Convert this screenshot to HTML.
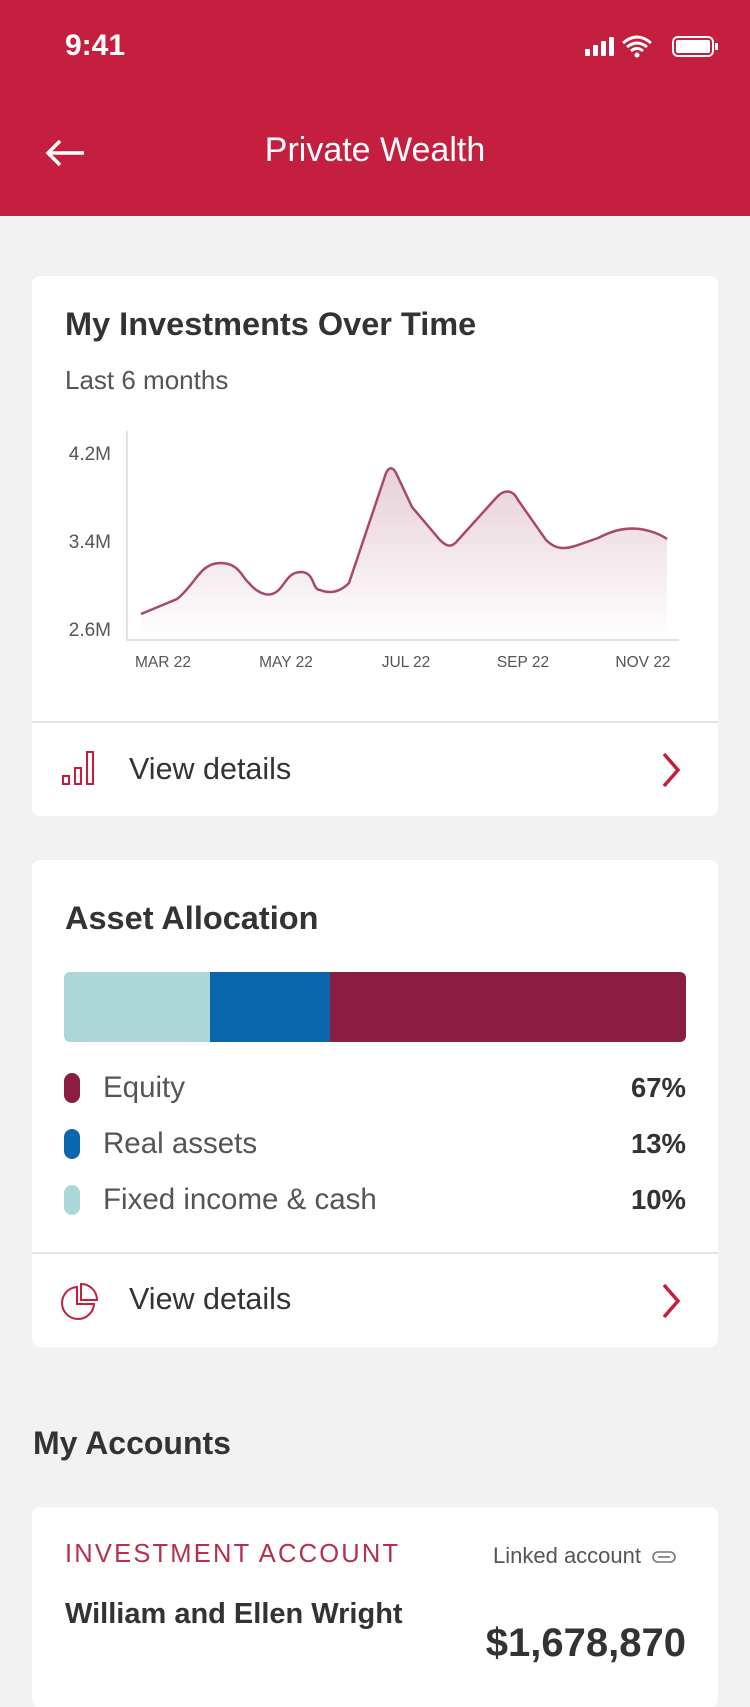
<!DOCTYPE html>
<html><head><meta charset="utf-8"><style>
*{margin:0;padding:0;box-sizing:border-box}
body{width:750px;height:1624px;overflow:hidden;background:#f2f2f2;font-family:"Liberation Sans",sans-serif;position:relative;color:#333}
.abs{position:absolute}
.card{position:absolute;left:32px;width:686px;background:#fff;border-radius:8px}
</style></head><body>
<div class="abs" style="left:0;top:0;width:750px;height:216px;background:#c41f3e"></div>
<div class="abs" style="left:65px;top:29px;color:#fff;font-size:30px;font-weight:bold">9:41</div>
<svg class="abs" style="left:585px;top:34px" width="135" height="26">
<rect x="0" y="15" width="5" height="7" rx="1" fill="#fff"/><rect x="8" y="11" width="5" height="11" rx="1" fill="#fff"/><rect x="16" y="7" width="5" height="15" rx="1" fill="#fff"/><rect x="24" y="3" width="5" height="19" rx="1" fill="#fff"/>
<path d="M38 9 Q52 -3 66 9 M42 13 Q52 5 62 13 M46 17 Q52 12 58 17" stroke="#fff" stroke-width="3" fill="none"/><circle cx="52" cy="21" r="2.5" fill="#fff"/>
<rect x="88" y="3" width="40" height="19" rx="5" fill="none" stroke="#fff" stroke-width="2"/><rect x="91" y="6" width="34" height="13" rx="2" fill="#fff"/><rect x="130" y="9" width="3" height="7" fill="#fff"/>
</svg>
<svg class="abs" style="left:44px;top:138px" width="42" height="30"><path d="M40 15H4M16 3L4 15L16 27" stroke="#fff" stroke-width="3.5" fill="none"/></svg>
<div class="abs" style="left:0;width:750px;top:131px;text-align:center;color:#fff;font-size:34px">Private Wealth</div>

<div class="card" style="top:276px;height:540px">
<div class="abs" style="left:33px;top:30px;font-size:32.5px;font-weight:bold;color:#333">My Investments Over Time</div>
<div class="abs" style="left:33px;top:89px;font-size:26px;color:#555">Last 6 months</div>
<div class="abs" style="left:0;top:445px;width:686px;height:2px;background:#e2e2e2"></div>
<svg class="abs" style="left:30px;top:473px" width="40" height="40"><g fill="none" stroke="#c41f3e" stroke-width="2"><rect x="1" y="27" width="6" height="8"/><rect x="13" y="19" width="6" height="16"/><rect x="25" y="3" width="6" height="32"/></g></svg>
<div class="abs" style="left:97px;top:476px;font-size:30.5px;color:#333">View details</div>
<svg class="abs" style="left:628px;top:476px" width="24" height="36"><path d="M4 2L18 18L4 34" stroke="#c41f3e" stroke-width="3.5" fill="none"/></svg>
</div>
<svg class="abs" style="left:0;top:0" width="750" height="700">
<defs><linearGradient id="g" x1="0" y1="0" x2="0" y2="1"><stop offset="0" stop-color="#e6d0d8"/><stop offset="1" stop-color="#fff"/></linearGradient></defs>
<path d="M141 614 L177 599 C195 585 200 563 220 563 C240 563 242 578 249 583 C256 592 266 596 272 594 C285 590 285 572 301 572 C315 572 312 590 320 590 C330 594 340 592 349 583 L386 473 C390 465 394 468 397 475 L412 507 L440 540 C447 547 452 548 458 540 L496 498 C503 490 512 488 518 500 L546 540 C556 550 565 549 575 546 L598 538 C610 532 622 527 640 529 C652 531 660 534 667 539 L667 640 L141 640 Z" fill="url(#g)"/>
<path d="M141 614 L177 599 C195 585 200 563 220 563 C240 563 242 578 249 583 C256 592 266 596 272 594 C285 590 285 572 301 572 C315 572 312 590 320 590 C330 594 340 592 349 583 L386 473 C390 465 394 468 397 475 L412 507 L440 540 C447 547 452 548 458 540 L496 498 C503 490 512 488 518 500 L546 540 C556 550 565 549 575 546 L598 538 C610 532 622 527 640 529 C652 531 660 534 667 539" fill="none" stroke="#a84a67" stroke-width="2.5"/>
<path d="M127 431V640H679" stroke="#e2e2e2" stroke-width="2" fill="none"/>
<g font-family="Liberation Sans" font-size="19" fill="#555" text-anchor="end"><text x="111" y="460">4.2M</text><text x="111" y="548">3.4M</text><text x="111" y="636">2.6M</text></g>
<g font-family="Liberation Sans" font-size="15.5" fill="#555" text-anchor="middle"><text x="163" y="667">MAR 22</text><text x="286" y="667">MAY 22</text><text x="406" y="667">JUL 22</text><text x="523" y="667">SEP 22</text><text x="643" y="667">NOV 22</text></g>
</svg>

<div class="card" style="top:860px;height:487px">
<div class="abs" style="left:33px;top:40px;font-size:32.5px;font-weight:bold">Asset Allocation</div>
<div class="abs" style="left:32px;top:112px;width:622px;height:70px;border-radius:6px;overflow:hidden;display:flex">
<div style="width:146px;background:#acd7d8"></div><div style="width:120px;background:#0a66aa"></div><div style="flex:1;background:#8b1d42"></div></div>
<div class="abs" style="left:32px;top:213px;width:16px;height:30px;border-radius:8px;background:#8b1d42"></div>
<div class="abs" style="left:32px;top:269px;width:16px;height:30px;border-radius:8px;background:#0a66aa"></div>
<div class="abs" style="left:32px;top:325px;width:16px;height:30px;border-radius:8px;background:#acd7d8"></div>
<div class="abs" style="left:71px;top:212px;font-size:29.5px;color:#555;line-height:32px">Equity</div>
<div class="abs" style="left:71px;top:268px;font-size:29.5px;color:#555;line-height:32px">Real assets</div>
<div class="abs" style="left:71px;top:324px;font-size:29.5px;color:#555;line-height:32px">Fixed income &amp; cash</div>
<div class="abs" style="right:32px;top:212px;font-size:27.5px;font-weight:bold;line-height:32px">67%</div>
<div class="abs" style="right:32px;top:268px;font-size:27.5px;font-weight:bold;line-height:32px">13%</div>
<div class="abs" style="right:32px;top:324px;font-size:27.5px;font-weight:bold;line-height:32px">10%</div>
<div class="abs" style="left:0;top:392px;width:686px;height:2px;background:#e2e2e2"></div>
<svg class="abs" style="left:28px;top:422px" width="40" height="40"><g fill="none" stroke="#c41f3e" stroke-width="2"><path d="M17 5A16 16 0 1 0 34 22H17Z"/><path d="M21 2V18H37A16 16 0 0 0 21 2Z"/></g></svg>
<div class="abs" style="left:97px;top:422px;font-size:30.5px">View details</div>
<svg class="abs" style="left:628px;top:423px" width="24" height="36"><path d="M4 2L18 18L4 34" stroke="#c41f3e" stroke-width="3.5" fill="none"/></svg>
</div>

<div class="abs" style="left:33px;top:1425px;font-size:32px;font-weight:bold">My Accounts</div>
<div class="card" style="top:1507px;height:200px">
<div class="abs" style="left:33px;top:33px;font-size:25.5px;color:#b5304f;letter-spacing:2.2px">INVESTMENT ACCOUNT</div>
<div class="abs" style="left:461px;top:36px;font-size:22px;color:#555">Linked account</div>
<svg class="abs" style="left:620px;top:42px" width="26" height="16"><g fill="none" stroke="#777" stroke-width="1.6"><rect x="1" y="3" width="22" height="10" rx="5"/><path d="M6 8H18"/></g></svg>
<div class="abs" style="left:33px;top:91px;font-size:29px;font-weight:bold">William and Ellen Wright</div>
<div class="abs" style="right:32px;top:114px;font-size:40px;font-weight:bold">$1,678,870</div>
</div>
</body></html>
